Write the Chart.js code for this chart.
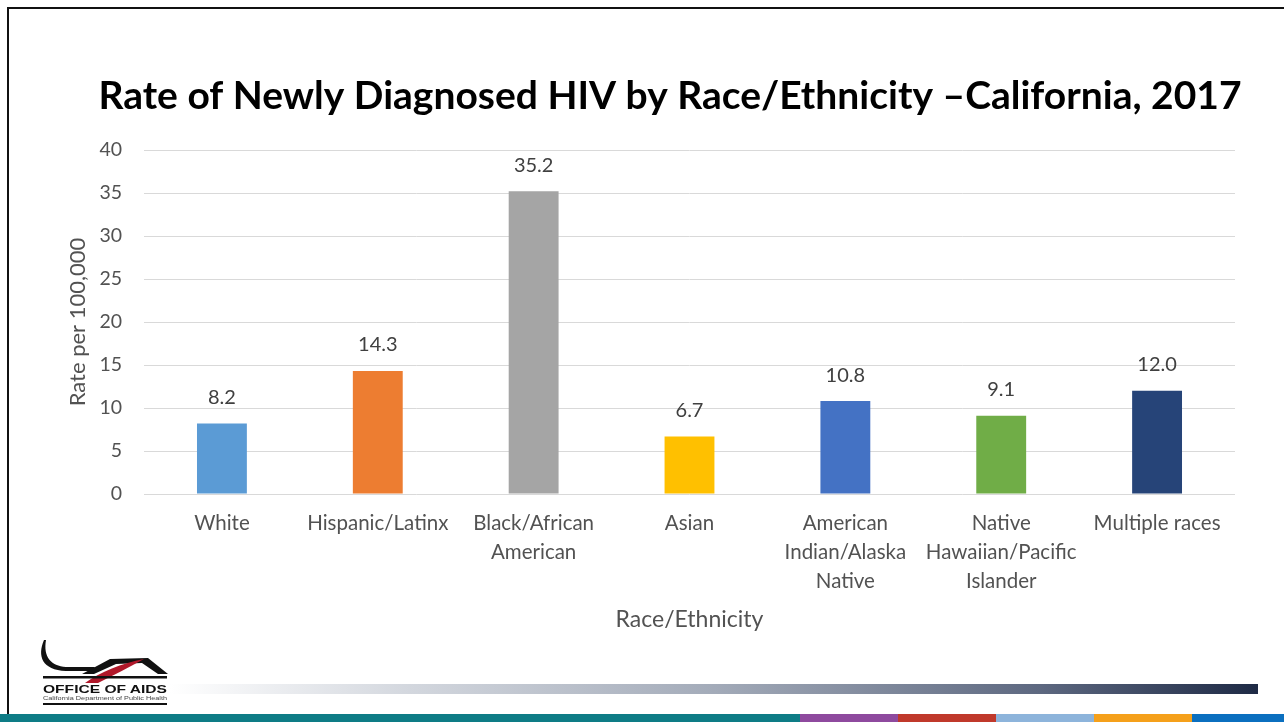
<!DOCTYPE html>
<html>
<head>
<meta charset="utf-8">
<script src="https://cdn.jsdelivr.net/npm/chart.js@4.4.1/dist/chart.umd.min.js"></script>
<style>
  html, body { margin: 0; padding: 0; background: #fff; }
  #wrap { position: relative; width: 1284px; height: 722px; overflow: hidden; background: #fff; }
  #frame { position: absolute; left: 7px; top: 7px; width: 1290px; height: 740px; border-left: 2px solid #111; border-top: 2px solid #111; }
  #c { position: absolute; left: 0; top: 0; }
  #grad { position: absolute; left: 170px; top: 684px; width: 1088px; height: 10px;
          background: linear-gradient(to right, rgba(255,255,255,1) 0%, #d3d7de 22%, #a3abb9 50%, #5d6880 80%, #1e2a45 100%); }
  .stripe { position: absolute; top: 714px; height: 8px; }
  #logo { position: absolute; left: 30px; top: 630px; }
</style>
</head>
<body>
<div id="wrap">
  <div id="frame"></div>
  <canvas id="c" width="1284" height="722"></canvas>
  <div id="grad"></div>
  <svg id="logo" width="150" height="80" viewBox="0 0 150 80">
    <path d="M14,10 C 7,26 12,40 36,41 L 70,41 L 64,37 L 36,37 C 21,36 13,27 16,10 Z" fill="#111"/>
    <path d="M52,44 L 80,29 L 118,28 L 138,44 L 128,44 L 112,33 L 86,34 L 64,44 Z" fill="#111"/>
    <path d="M55,53 C 70,42 92,33 114,29 C 98,38 82,46 68,53 Z" fill="#b0182a"/>
    <rect x="13" y="46" width="124" height="2.5" fill="#111"/>
    <text x="13" y="63" font-family="Liberation Sans, sans-serif" font-size="11" font-weight="bold" fill="#111" textLength="124" lengthAdjust="spacingAndGlyphs">OFFICE OF AIDS</text>
    <text x="13" y="70" font-family="Liberation Sans, sans-serif" font-size="5" fill="#444" textLength="124" lengthAdjust="spacingAndGlyphs">California Department of Public Health</text>
    <rect x="13" y="73" width="124" height="2" fill="#111"/>
  </svg>
  <div class="stripe" style="left:0;width:800px;background:#0e7c86"></div>
  <div class="stripe" style="left:800px;width:98px;background:#8e4a9e"></div>
  <div class="stripe" style="left:898px;width:98px;background:#c0392b"></div>
  <div class="stripe" style="left:996px;width:98px;background:#8db4db"></div>
  <div class="stripe" style="left:1094px;width:98px;background:#f5a01a"></div>
  <div class="stripe" style="left:1192px;width:92px;background:#0b6fbf"></div>
</div>
<script>
const categories = [
  "White",
  "Hispanic/Latinx",
  ["Black/African", "American"],
  "Asian",
  ["American", "Indian/Alaska", "Native"],
  ["Native", "Hawaiian/Pacific", "Islander"],
  "Multiple races"
];
const rates = [8.2, 14.3, 35.2, 6.7, 10.8, 9.1, 12.0];
const barColors = ["#5b9bd5", "#ed7d31", "#a5a5a5", "#ffc000", "#4472c4", "#70ad47", "#264478"];
const yTicks = [0, 5, 10, 15, 20, 25, 30, 35, 40];
const titleText = "Rate of Newly Diagnosed HIV by Race/Ethnicity \u2013California, 2017";
const yTitle = "Rate per 100,000";
const xTitle = "Race/Ethnicity";

const FONT = "Lato, 'Open Sans', sans-serif";
const TEXT_COLOR = "#525252";

const valueLabels = {
  id: 'valueLabels',
  afterDatasetsDraw(chart) {
    const ctx = chart.ctx;
    const meta = chart.getDatasetMeta(0);
    ctx.save();
    ctx.font = "20px " + FONT;
    ctx.fillStyle = "#404040";
    ctx.textAlign = "center";
    ctx.textBaseline = "middle";
    meta.data.forEach((bar, i) => {
      ctx.fillText(rates[i].toFixed(1), bar.x, bar.y - 26);
    });
    ctx.restore();
  }
};

const slideTitle = {
  id: 'slideTitle',
  afterDraw(chart) {
    const ctx = chart.ctx;
    ctx.save();
    ctx.font = "bold 39px " + FONT;
    ctx.fillStyle = "#000";
    ctx.textAlign = "center";
    ctx.textBaseline = "middle";
    ctx.fillText(titleText, 670, 96);
    ctx.restore();
  }
};

new Chart(document.getElementById('c'), {
  type: 'bar',
  data: {
    labels: categories,
    datasets: [{
      data: rates,
      backgroundColor: barColors,
      borderWidth: 0,
      categoryPercentage: 1.0,
      barPercentage: 0.32
    }]
  },
  options: {
    responsive: false,
    animation: false,
    devicePixelRatio: 1,
    layout: { padding: { left: 60, right: 49, top: 150, bottom: 88 } },
    plugins: {
      legend: { display: false },
      tooltip: { enabled: false },
      title: { display: false }
    },
    scales: {
      x: {
        afterFit(scale) { scale.height = 140; },
        grid: { display: false, drawTicks: false },
        border: { display: false },
        ticks: {
          color: TEXT_COLOR,
          font: { family: FONT, size: 20.5, lineHeight: 1.42 },
          padding: 15,
          maxRotation: 0,
          autoSkip: false
        },
        title: {
          display: true,
          text: xTitle,
          color: TEXT_COLOR,
          font: { family: FONT, size: 23, lineHeight: 1.2 },
          padding: { top: 0, bottom: 1 }
        }
      },
      y: {
        min: 0,
        max: 40,
        afterBuildTicks(scale) { scale.ticks = yTicks.map(v => ({ value: v })); },
        afterFit(scale) { scale.width = 84; },
        grid: { color: "#d9d9d9", lineWidth: 1, drawTicks: false },
        border: { display: false },
        ticks: {
          color: TEXT_COLOR,
          font: { family: FONT, size: 19.5 },
          padding: 22
        },
        title: {
          display: true,
          text: yTitle,
          color: TEXT_COLOR,
          font: { family: FONT, size: 22, lineHeight: 1.2 },
          padding: { top: 5, bottom: 4 }
        }
      }
    }
  },
  plugins: [valueLabels, slideTitle]
});
</script>
</body>
</html>
